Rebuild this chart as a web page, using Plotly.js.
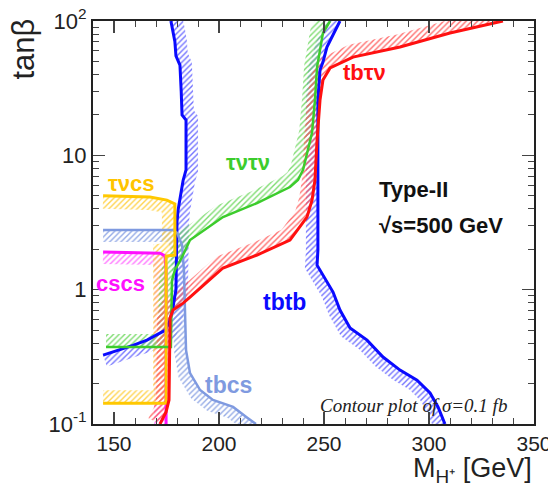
<!DOCTYPE html>
<html><head><meta charset="utf-8">
<script src="https://cdn.plot.ly/plotly-3.0.1.min.js"></script>
<style>html,body{margin:0;padding:0;background:#fff}</style>
</head><body>
<div id="chart" style="width:548px;height:491px"></div>
<script>
// ---- data (M_H+ in GeV, tan(beta)) ----
const tbtbLeftMH   = [177.1, 178.1, 179.0, 179.5, 181.4, 182.0, 182.4, 184.3, 184.3, 182.9, 180.5, 180.0, 179.5, 178.1, 176.7, 174.5, 171.0, 165.7, 159.0, 144.8];
const tbtbLeftTanb = [100,   85,    70,    55,    47,    30,    20,    18.3,  7.8,   6.5,   3.9,   3.2,   1.0,   0.74,  0.594, 0.50,  0.465, 0.421, 0.385, 0.326];

const tbtbRightMH   = [257.6, 251.4, 249.5, 248.1, 247.1, 247.1, 246.7, 250.5, 254.3, 257.6, 262.4, 270.5, 278.1, 286.2, 294.3, 300.5, 304.3, 307.6];
const tbtbRightTanb = [100,   64,    49.5,  43.2,  25.8,  1.97,  1.52,  1.22,  0.96,  0.705, 0.518, 0.421, 0.315, 0.252, 0.212, 0.170, 0.134, 0.1];

const tauMH   = [252.9, 249.5, 246.7, 245.7, 244.3, 242.4, 240.0, 237.6, 233.8, 218.1, 201.9, 186.2, 182.4, 179.0, 177.6, 177.1, 146.2];
const tauTanb = [100,   81.4,  45.4,  25.8,  14.7,  10.95, 7.78,  6.55,  5.81,  4.41,  3.47,  2.34,  1.75,  1.40,  1.17,  0.374, 0.374];

const tbtauMH   = [335.2, 310.0, 286.2, 263.8, 252.9, 249.5, 248.1, 246.7, 245.7, 244.3, 241.9, 233.8, 218.1, 201.9, 186.2, 182.9, 178.1, 176.7, 176.2, 174.8, 171.9];
const tbtauTanb = [100,   81.4,  64.0,  53.9,  44.7,  36.4,  25.8,  13.0,  6.55,  4.64,  3.47,  2.34,  1.81,  1.45,  0.88,  0.794, 0.705, 0.615, 0.151, 0.123, 0.1];

const taucsMH   = [144.8, 167.1, 175.2, 179.0, 179.0, 174.8, 174.8, 144.8];
const taucsTanb = [5.0,   4.9,   4.64,  4.35,  1.81,  1.78,  0.143, 0.143];

const cscsMH   = [144.8, 171.9, 174.3, 174.8, 174.8];
const cscsTanb = [1.91,  1.87,  1.78,  1.40,  0.1];

const tbcsMH   = [144.8, 178.1, 180.0, 182.4, 183.3, 183.8, 184.3, 186.2, 191.0, 197.1, 206.7, 213.3, 217.6];
const tbcsTanb = [2.78,  2.78,  2.65,  2.15,  1.40,  0.594, 0.355, 0.239, 0.179, 0.151, 0.134, 0.112, 0.1];

const xTickVals = [150, 200, 250, 300, 350];
const yTickVals = [0.1, 1, 10, 100];
const yTickText = ['10<sup>-1</sup>', '1', '10', '10<sup>2</sup>'];
const yMinorVals = [0.2,0.3,0.4,0.5,0.6,0.7,0.8,0.9,2,3,4,5,6,7,8,9,20,30,40,50,60,70,80,90];

// ---- hatched band alongside each contour (offset computed in screen units) ----
const X0 = 140, X1 = 350, LY0 = -1, LY1 = 2, W = 441, H = 403;
function toPx(x, y) { return [(x - X0) / (X1 - X0) * W, (LY1 - Math.log10(y)) / (LY1 - LY0) * H]; }
function fromPx(px, py) { return [X0 + px / W * (X1 - X0), Math.pow(10, LY1 - py / H * (LY1 - LY0))]; }
function band(xs, ys, side, w) {
  const p = xs.map((x, i) => toPx(x, ys[i]));
  const n = p.length, segN = [];
  for (let i = 0; i < n - 1; i++) {
    const dx = p[i+1][0] - p[i][0], dy = p[i+1][1] - p[i][1];
    const L = Math.hypot(dx, dy) || 1;
    segN.push([side * dy / L, -side * dx / L]);
  }
  const ox = [], oy = [];
  for (let i = 0; i < n; i++) {
    let nx, ny;
    if (i === 0) { [nx, ny] = segN[0]; }
    else if (i === n - 1) { [nx, ny] = segN[n - 2]; }
    else {
      const a = segN[i-1], b = segN[i];
      const d = Math.max(0.35, 1 + a[0]*b[0] + a[1]*b[1]);
      nx = (a[0] + b[0]) / d; ny = (a[1] + b[1]) / d;
    }
    const q = fromPx(p[i][0] + nx * w, p[i][1] + ny * w);
    ox.push(q[0]); oy.push(q[1]);
  }
  return { x: xs.concat(ox.slice().reverse()), y: ys.concat(oy.slice().reverse()) };
}

const curves = [
  { xs: tbtbLeftMH,  ys: tbtbLeftTanb,  side:  1, color: '#0a0aff', hatch: '#6464ff', lw: 3,   bw: 12 },
  { xs: tbtbRightMH, ys: tbtbRightTanb, side: -1, color: '#0a0aff', hatch: '#6464ff', lw: 3,   bw: 12 },
  { xs: tbcsMH,      ys: tbcsTanb,      side: -1, color: '#7f9ae0', hatch: '#8aa2e4', lw: 2.5, bw: 12 },
  { xs: cscsMH,      ys: cscsTanb,      side: -1, color: '#ff10ff', hatch: '#ff66ff', lw: 3,   bw: 12 },
  { xs: taucsMH,     ys: taucsTanb,     side: -1, color: '#ffc800', hatch: '#ffcf3c', lw: 3,   bw: 13 },
  { xs: tauMH,       ys: tauTanb,       side: -1, color: '#3ccc2c', hatch: '#6fd860', lw: 2.5, bw: 13 },
  { xs: tbtauMH,     ys: tbtauTanb,     side: -1, color: '#ff1010', hatch: '#ff5c5c', lw: 3,   bw: 13 },
];

const traces = [];
curves.forEach(c => {
  const b = band(c.xs, c.ys, c.side, c.bw);
  traces.push({
    x: b.x, y: b.y, type: 'scatter', mode: 'lines', fill: 'toself',
    line: { width: 0, color: 'rgba(0,0,0,0)' },
    fillcolor: 'rgba(0,0,0,0)',
    fillpattern: { shape: '/', fgcolor: c.hatch, bgcolor: 'rgba(0,0,0,0)', size: 4, solidity: 0.35, fgopacity: 0.9 },
    hoverinfo: 'skip', showlegend: false
  });
});
curves.forEach(c => {
  traces.push({
    x: c.xs, y: c.ys, type: 'scatter', mode: 'lines',
    line: { color: c.color, width: c.lw }, showlegend: false, hoverinfo: 'skip'
  });
});

const sans = 'Liberation Sans, Arial, Helvetica, sans-serif';
function lab(text, x, ly, color, size, extra) {
  return Object.assign({ text: text, x: x, y: ly, xref: 'x', yref: 'y', showarrow: false,
    font: { family: sans, size: size, color: color, weight: 'bold' } }, extra || {});
}

const layout = {
  width: 548, height: 491,
  margin: { l: 93, r: 14, t: 21, b: 67 },
  paper_bgcolor: '#ffffff', plot_bgcolor: '#ffffff',
  showlegend: false,
  xaxis: {
    range: [X0, X1], showgrid: false, zeroline: false,
    showline: true, linecolor: '#222', linewidth: 2, mirror: 'ticks',
    ticks: 'inside', ticklen: 12, tickwidth: 1.2, tickcolor: '#444',
    tickmode: 'array', tickvals: xTickVals, ticklabeloverflow: 'allow',
    minor: { dtick: 10, tick0: 0, ticks: 'inside', ticklen: 6, tickcolor: '#444', tickwidth: 1 },
    tickfont: { family: sans, size: 21, color: '#222' }
  },
  yaxis: {
    type: 'log', range: [LY0, LY1], showgrid: false, zeroline: false,
    showline: true, linecolor: '#222', linewidth: 2, mirror: 'ticks',
    ticks: 'inside', ticklen: 12, tickwidth: 1.2, tickcolor: '#444',
    tickmode: 'array', tickvals: yTickVals, ticktext: yTickText, ticklabeloverflow: 'allow',
    minor: { tickmode: 'array', tickvals: yMinorVals, ticks: 'inside', ticklen: 6, tickcolor: '#444', tickwidth: 1 },
    tickfont: { family: sans, size: 22, color: '#222' }
  },
  annotations: [
    lab('τνcs', 158.1, 0.794, '#ffc400', 22),
    lab('cscs', 152.9, 0.049, '#ff10ff', 22),
    lab('τντν', 213.8, 0.95, '#3ccc2c', 22),
    lab('tbτν', 269.5, 1.613, '#ff1010', 22),
    lab('tbtb', 231.4, -0.092, '#0a0aff', 23),
    lab('tbcs', 204.3, -0.71, '#7f9ae0', 23),
    lab('Type-II', 275.2, 0.742, '#111', 22, { xanchor: 'left' }),
    lab('√s=500 GeV', 275.2, 0.474, '#111', 22, { xanchor: 'left' }),
    { text: 'Contour plot of σ=0.1 fb', x: 292.4, y: -0.859, xref: 'x', yref: 'y', showarrow: false,
      font: { family: 'Liberation Serif, Times New Roman, serif', size: 19, color: '#222', style: 'italic' } },
    { text: 'tanβ', x: -0.158, y: 0.93, xref: 'paper', yref: 'paper', xanchor: 'center', yanchor: 'middle',
      showarrow: false, textangle: -90,
      font: { family: sans, size: 31, color: '#222' } },
    { text: 'M<sub>H⁺</sub> [GeV]', x: 1, xanchor: 'right', y: -0.114, yanchor: 'middle',
      xref: 'paper', yref: 'paper', showarrow: false,
      font: { family: sans, size: 27, color: '#222' } }
  ]
};

Plotly.newPlot('chart', traces, layout, { displayModeBar: false, staticPlot: true });
</script>
</body></html>
